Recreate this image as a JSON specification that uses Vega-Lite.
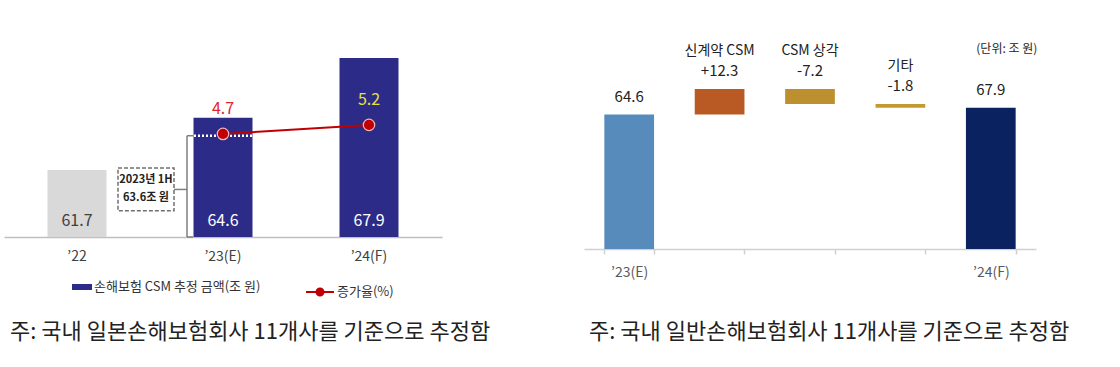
{
  "$schema": "https://vega.github.io/schema/vega-lite/v6.json",
  "padding": {"left": 4, "top": 20, "right": 10, "bottom": 20},
  "background": "white",
  "spacing": 142,
  "bounds": "flush",
  "resolve": {"scale": {"fill": "independent", "stroke": "independent"}},
  "config": {"view": {"stroke": null}, "font": "Noto Sans CJK KR"},
  "hconcat": [
    {
      "width": 438,
      "height": 217,
      "title": {"text": "주: 국내 일본손해보험회사 11개사를 기준으로 추정함", "orient": "bottom", "anchor": "start", "frame": "group", "offset": 22, "dx": 6, "fontSize": 22, "font": "Noto Sans CJK KR", "fontWeight": "normal", "color": "#222222", "limit": 0},
      "layer": [
        {
          "layer": [
            {
              "data": {"values": [
                {"year": "’22", "value": 61.7, "kind": "actual", "label": "61.7"},
                {"year": "’23(E)", "value": 64.6, "kind": "손해보험 CSM 추정 금액(조 원)", "label": "64.6"},
                {"year": "’24(F)", "value": 67.9, "kind": "손해보험 CSM 추정 금액(조 원)", "label": "67.9"}
              ]},
              "layer": [
                {
                  "mark": {"type": "bar", "clip": true},
                  "encoding": {
                    "x": {"field": "year", "type": "nominal", "sort": null,
                      "scale": {"paddingInner": 0.596, "paddingOuter": 0.298},
                      "axis": {"title": null, "ticks": false, "domainColor": "#BFBFBF", "domainWidth": 1.5, "labelAngle": 0, "labelFontSize": 14, "labelColor": "#404040", "labelPadding": 12, "labelFont": "Noto Sans CJK KR"}},
                    "y": {"field": "value", "type": "quantitative", "scale": {"domain": [58, 69.67], "zero": false}, "axis": null},
                    "fill": {"field": "kind", "type": "nominal",
                      "scale": {"domain": ["손해보험 CSM 추정 금액(조 원)", "actual"], "range": ["#2C2C88", "#D9D9D9"]},
                      "legend": {"values": ["손해보험 CSM 추정 금액(조 원)"], "title": null, "orient": "none", "legendX": 68, "legendY": 257,
                        "symbolType": "M-1,-0.3H1V0.3H-1Z", "symbolSize": 400, "symbolStrokeWidth": 0, "labelLimit": 400,
                        "labelFontSize": 13, "labelColor": "#333333", "labelOffset": 2, "labelFont": "Noto Sans CJK KR"}}
                  }
                },
                {
                  "mark": {"type": "text", "baseline": "bottom", "dy": -8, "fontSize": 16, "font": "Noto Sans CJK KR"},
                  "encoding": {
                    "x": {"field": "year", "type": "nominal", "sort": null},
                    "y": {"datum": 58, "type": "quantitative", "scale": {"domain": [58, 69.67], "zero": false}},
                    "text": {"field": "label"},
                    "color": {"condition": {"test": "datum.kind === 'actual'", "value": "#404040"}, "value": "#FFFFFF"}
                  }
                }
              ]
            },
            {
              "data": {"values": [{"year": "’23(E)", "h": 63.6, "base": 58, "mid": 60.63, "top": 61.82, "bottom": 59.45, "note1": "2023년 1H", "note2": "63.6조 원"}]},
              "layer": [
                {
                  "mark": {"type": "rule", "color": "#FFFFFF", "strokeWidth": 2.5, "strokeDash": [2, 2], "xOffset": -29, "x2Offset": 29},
                  "encoding": {"x": {"field": "year", "type": "nominal", "sort": null}, "x2": {"field": "year"}, "y": {"field": "h", "type": "quantitative", "scale": {"domain": [58, 69.67], "zero": false}}}
                },
                {
                  "mark": {"type": "rule", "color": "#7F7F7F", "strokeWidth": 1.5, "xOffset": -36},
                  "encoding": {"x": {"field": "year", "type": "nominal", "sort": null}, "y": {"field": "h", "type": "quantitative"}, "y2": {"field": "base"}}
                },
                {
                  "mark": {"type": "rule", "color": "#7F7F7F", "strokeWidth": 1.5, "xOffset": -36, "x2Offset": -30},
                  "encoding": {"x": {"field": "year", "type": "nominal", "sort": null}, "x2": {"field": "year"}, "y": {"field": "h", "type": "quantitative"}}
                },
                {
                  "mark": {"type": "rule", "color": "#7F7F7F", "strokeWidth": 1.5, "xOffset": -36, "x2Offset": -30},
                  "encoding": {"x": {"field": "year", "type": "nominal", "sort": null}, "x2": {"field": "year"}, "y": {"field": "base", "type": "quantitative"}}
                },
                {
                  "mark": {"type": "rule", "color": "#7F7F7F", "strokeWidth": 1.5, "xOffset": -49, "x2Offset": -36},
                  "encoding": {"x": {"field": "year", "type": "nominal", "sort": null}, "x2": {"field": "year"}, "y": {"field": "mid", "type": "quantitative"}}
                },
                {
                  "mark": {"type": "rect", "fill": "#FFFFFF", "stroke": "#707070", "strokeWidth": 1.5, "strokeDash": [4, 2], "xOffset": -105, "x2Offset": -49},
                  "encoding": {"x": {"field": "year", "type": "nominal", "sort": null}, "x2": {"field": "year"}, "y": {"field": "top", "type": "quantitative"}, "y2": {"field": "bottom"}}
                },
                {
                  "mark": {"type": "text", "xOffset": -77, "dy": -9, "fontSize": 11, "fontWeight": "bold", "baseline": "middle", "color": "#222222", "font": "Noto Sans CJK KR"},
                  "encoding": {"x": {"field": "year", "type": "nominal", "sort": null}, "y": {"field": "mid", "type": "quantitative"}, "text": {"field": "note1"}}
                },
                {
                  "mark": {"type": "text", "xOffset": -77, "dy": 9, "fontSize": 11, "fontWeight": "bold", "baseline": "middle", "color": "#222222", "font": "Noto Sans CJK KR"},
                  "encoding": {"x": {"field": "year", "type": "nominal", "sort": null}, "y": {"field": "mid", "type": "quantitative"}, "text": {"field": "note2"}}
                }
              ]
            }
          ]
        },
        {
          "data": {"values": [
            {"year": "’23(E)", "rate": 4.7, "series": "증가율(%)", "label": "4.7", "tc": "red"},
            {"year": "’24(F)", "rate": 5.2, "series": "증가율(%)", "label": "5.2", "tc": "yellow"}
          ]},
          "layer": [
            {
              "mark": {"type": "line", "strokeWidth": 2},
              "encoding": {
                "x": {"field": "year", "type": "nominal", "sort": null},
                "y": {"field": "rate", "type": "quantitative", "scale": {"domain": [-0.6, 10.25]}, "axis": null},
                "stroke": {"field": "series", "type": "nominal", "scale": {"range": ["#C00000"]},
                  "legend": {"title": null, "orient": "none", "legendX": 301, "legendY": 257,
                    "symbolType": "M-1,0H1M-0.25,0A0.25,0.25 0 1,0 0.25,0A0.25,0.25 0 1,0 -0.25,0Z", "symbolSize": 784, "symbolStrokeWidth": 2,
                    "labelFontSize": 13, "labelColor": "#333333", "labelOffset": 2, "labelFont": "Noto Sans CJK KR", "labelLimit": 300,
                    "encode": {"symbols": {"update": {"fill": {"value": "#C00000"}}}}}}
              }
            },
            {
              "mark": {"type": "point", "filled": true, "size": 130, "fill": "#C00000", "stroke": "#F4B6B6", "strokeWidth": 1.2, "opacity": 1},
              "encoding": {
                "x": {"field": "year", "type": "nominal", "sort": null},
                "y": {"field": "rate", "type": "quantitative"}
              }
            },
            {
              "mark": {"type": "text", "baseline": "bottom", "dy": -17, "fontSize": 16, "font": "Noto Sans CJK KR"},
              "encoding": {
                "x": {"field": "year", "type": "nominal", "sort": null},
                "y": {"field": "rate", "type": "quantitative"},
                "text": {"field": "label"},
                "color": {"condition": {"test": "datum.tc === 'red'", "value": "#E0262A"}, "value": "#E6E23A"}
              }
            }
          ]
        }
      ],
      "resolve": {"scale": {"y": "independent"}}
    },
    {
      "width": 452,
      "height": 229,
      "title": {"text": "주: 국내 일반손해보험회사 11개사를 기준으로 추정함", "orient": "bottom", "anchor": "start", "frame": "group", "offset": 43, "dx": 5, "fontSize": 22, "font": "Noto Sans CJK KR", "fontWeight": "normal", "color": "#222222", "limit": 0},
      "layer": [
        {
          "data": {"values": [
            {"cat": "’23(E)", "start": 0, "end": 64.6, "top": 64.6, "name": "", "val": "64.6"},
            {"cat": "신계약 CSM", "start": 64.6, "end": 76.9, "top": 76.9, "name": "신계약 CSM", "val": "+12.3"},
            {"cat": "CSM 상각", "start": 76.9, "end": 69.7, "top": 76.9, "name": "CSM 상각", "val": "-7.2"},
            {"cat": "기타", "start": 69.7, "end": 67.9, "top": 69.7, "name": "기타", "val": "-1.8"},
            {"cat": "’24(F)", "start": 0, "end": 67.9, "top": 67.9, "name": "", "val": "67.9"}
          ]},
          "layer": [
            {
              "mark": {"type": "bar"},
              "encoding": {
                "x": {"field": "cat", "type": "nominal", "sort": null,
                  "scale": {"paddingInner": 0.45, "paddingOuter": 0.225},
                  "axis": {"title": null, "labelAngle": 0, "ticks": true, "tickBand": "extent", "tickSize": 5, "tickColor": "#D0D0D0", "domainColor": "#D0D0D0", "domainWidth": 1.5, "tickWidth": 1.5,
                    "labelExpr": "datum.label == '’23(E)' || datum.label == '’24(F)' ? datum.label : ''", "labelFontSize": 14, "labelColor": "#595959", "labelPadding": 11, "labelFont": "Noto Sans CJK KR"}},
                "y": {"field": "start", "type": "quantitative", "scale": {"domain": [0, 109]}, "axis": null},
                "y2": {"field": "end"},
                "fill": {"field": "cat", "type": "nominal", "scale": {"domain": ["’23(E)", "신계약 CSM", "CSM 상각", "기타", "’24(F)"], "range": ["#578BBB", "#B95A24", "#BC902E", "#C49A30", "#0B2260"]}, "legend": null}
              }
            },
            {
              "mark": {"type": "text", "baseline": "bottom", "dy": -10, "fontSize": 15, "color": "#222222", "font": "Noto Sans CJK KR"},
              "encoding": {
                "x": {"field": "cat", "type": "nominal", "sort": null},
                "y": {"field": "top", "type": "quantitative"},
                "text": {"field": "val"}
              }
            },
            {
              "mark": {"type": "text", "baseline": "bottom", "dy": -31, "fontSize": 14, "color": "#222222", "font": "Noto Sans CJK KR"},
              "encoding": {
                "x": {"field": "cat", "type": "nominal", "sort": null},
                "y": {"field": "top", "type": "quantitative"},
                "text": {"field": "name"}
              }
            }
          ]
        },
        {
          "data": {"values": [{"cat": "’24(F)", "y": 96.2, "t": "(단위: 조 원)"}]},
          "mark": {"type": "text", "dx": 16, "baseline": "middle", "fontSize": 12, "color": "#222222", "font": "Noto Sans CJK KR"},
          "encoding": {
            "x": {"field": "cat", "type": "nominal", "sort": null},
            "y": {"field": "y", "type": "quantitative"},
            "text": {"field": "t"}
          }
        }
      ]
    }
  ]
}
